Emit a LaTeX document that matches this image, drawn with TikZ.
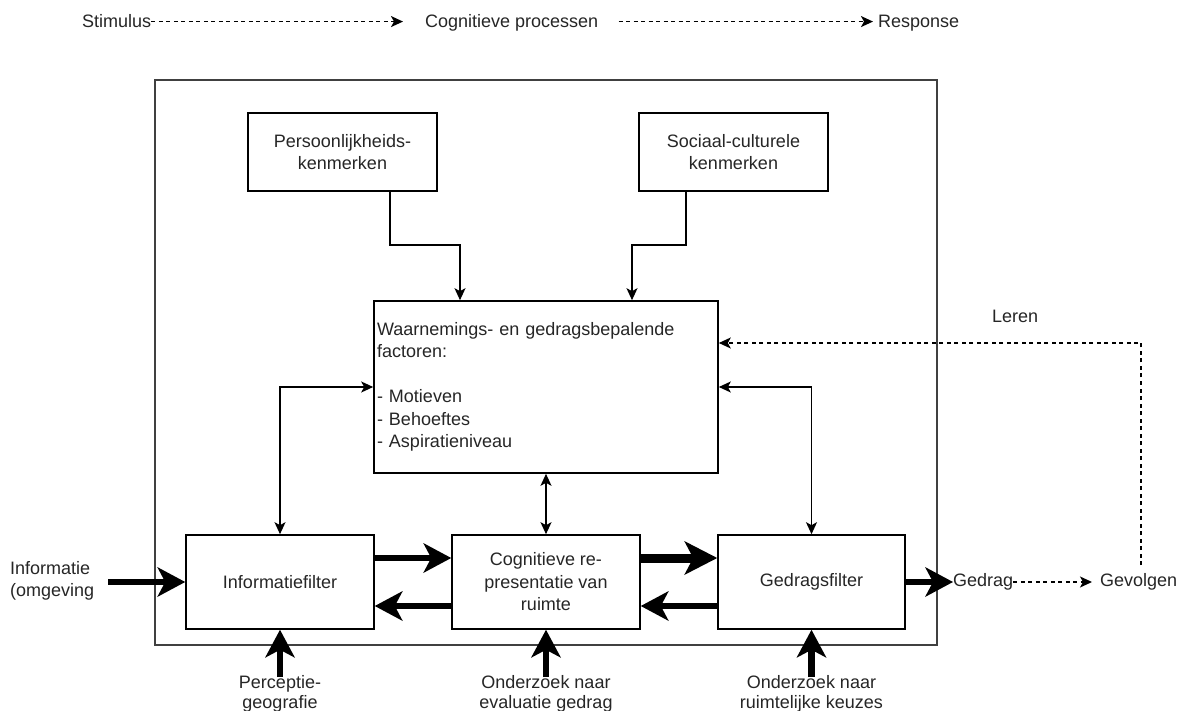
\documentclass[tikz,border=0pt]{standalone}
\usepackage{fontspec}
\setmainfont{Liberation Sans}
\usetikzlibrary{arrows.meta}
\begin{document}
\begin{tikzpicture}[x=1pt,y=-1pt,
  every node/.style={font=\fontsize{18}{22.5}\selectfont, text=black!85},
  box/.style={draw=black, line width=1.6pt, inner sep=2pt, align=center},
  lbl/.style={inner sep=0pt},
  conn/.style={draw=black, line width=1.6pt, -{Stealth[length=12pt,width=11pt,inset=3pt]}},
  biconn/.style={draw=black, line width=1.6pt, {Stealth[length=12pt,width=11pt,inset=3pt]}-{Stealth[length=12pt,width=11pt,inset=3pt]}},
  fat/.style={draw=black, line width=6.5pt, -{Stealth[length=28pt,width=30pt,inset=8pt,line width=0pt]}},
  fatter/.style={draw=black, line width=9pt, -{Stealth[length=33pt,width=34pt,inset=9pt,line width=0pt]}},
  dasharrow/.style={draw=black, line width=1.5pt, dash pattern=on 4pt off 3.5pt, -{Stealth[length=12pt,width=11pt,inset=3pt]}},
]
\useasboundingbox (0,0) rectangle (1184,711);
\fill[white] (0,0) rectangle (1184,711);

% frame and boxes
\node[box, draw=black!75, minimum width=782pt, minimum height=565pt] (frame) at (546,362.5) {};
\node[box, minimum width=189pt, minimum height=78pt] (pers) at (342.5,152) {Persoonlijkheids-\\kenmerken};
\node[box, minimum width=189pt, minimum height=78pt] (soc) at (733.5,152) {Sociaal-culturele\\kenmerken};
\node[box, minimum width=344pt, minimum height=172pt, text width=338pt, align=left, inner xsep=3pt] (waarn) at (546,387)
  {Waarnemings- en gedragsbepalende\\factoren:\\~\\{}- Motieven\\{}- Behoeftes\\{}- Aspiratieniveau};
\node[box, minimum width=188pt, minimum height=94pt] (info) at (280,582) {Informatiefilter};
\node[box, minimum width=188pt, minimum height=94pt] (cogn) at (546,582) {Cognitieve re-\\presentatie van\\ruimte};
\node[box, minimum width=187pt, minimum height=94pt] (gedr) at (811.5,582) {Gedragsfilter};

% labels
\node[lbl, anchor=base west] (stim) at (82,28) {Stimulus};
\node[lbl, anchor=base west] (cogp) at (425,28) {Cognitieve processen};
\node[lbl, anchor=base west] (resp) at (878,28) {Response};
\node[lbl, anchor=base west] (leren) at (992,323) {Leren};
\node[lbl, anchor=west, align=left] (inf) at (10,581) {Informatie\\(omgeving};
\node[lbl, anchor=west] (gedrag) at (953,582) {Gedrag};
\node[lbl, anchor=west] (gevolg) at (1100,582) {Gevolgen};
\node[lbl, anchor=north, align=center, font=\fontsize{18}{20}\selectfont] (perc) at (280,675) {Perceptie-\\geografie};
\node[lbl, anchor=north, align=center, font=\fontsize{18}{20}\selectfont] (ond1) at (546,675) {Onderzoek naar\\evaluatie gedrag};
\node[lbl, anchor=north, align=center, font=\fontsize{18}{20}\selectfont] (ond2) at (811.5,675) {Onderzoek naar\\ruimtelijke keuzes};

% top line
\draw[dasharrow, shorten >=22pt] (stim.east) -- (stim.east -| cogp.west);
\draw[dasharrow, shorten <=20pt, shorten >=5pt] (cogp.east |- stim.east) -- (stim.east -| resp.west);

% thin connectors
\coordinate (p1) at (390,245); \coordinate (p2) at (460,245);
\draw[conn] (pers.south -| p1) -- (p1) -- (p2) -- (p2 |- waarn.north);
\coordinate (s1) at (686,245); \coordinate (s2) at (632,245);
\draw[conn] (soc.south -| s1) -- (s1) -- (s2) -- (s2 |- waarn.north);
\draw[biconn] (info.north) |- (waarn.west);
\draw[biconn] (gedr.north) |- (waarn.east);
\draw[biconn] (cogn.north) -- (waarn.south);

% thick arrows
\draw[fat] ([yshift=24pt]info.east) -- ([yshift=24pt]cogn.west);
\draw[fat] ([yshift=-24pt]cogn.west) -- ([yshift=-24pt]info.east);
\draw[fatter] ([yshift=24pt]cogn.east) -- ([yshift=24pt]gedr.west);
\draw[fat] ([yshift=-24pt]gedr.west) -- ([yshift=-24pt]cogn.east);
\coordinate (istart) at (108,582);
\draw[fat] (istart) -- (info.west);
\draw[fat] (gedr.east) -- (gedrag.west);
\coordinate (b1) at (280,677);
\coordinate (b2) at (546,677);
\coordinate (b3) at (811.5,677);
\draw[fat] (b1) -- (info.south);
\draw[fat] (b2) -- (cogn.south);
\draw[fat] (b3) -- (gedr.south);

% feedback
\draw[dasharrow, shorten >=8pt] (gedrag.east) -- (gevolg.west);
\coordinate (lb) at (1141,565);
\coordinate (lc) at (1141,343);
\draw[dasharrow] (lb) -- (lc) -- (lc -| waarn.east);
\end{tikzpicture}
\end{document}
